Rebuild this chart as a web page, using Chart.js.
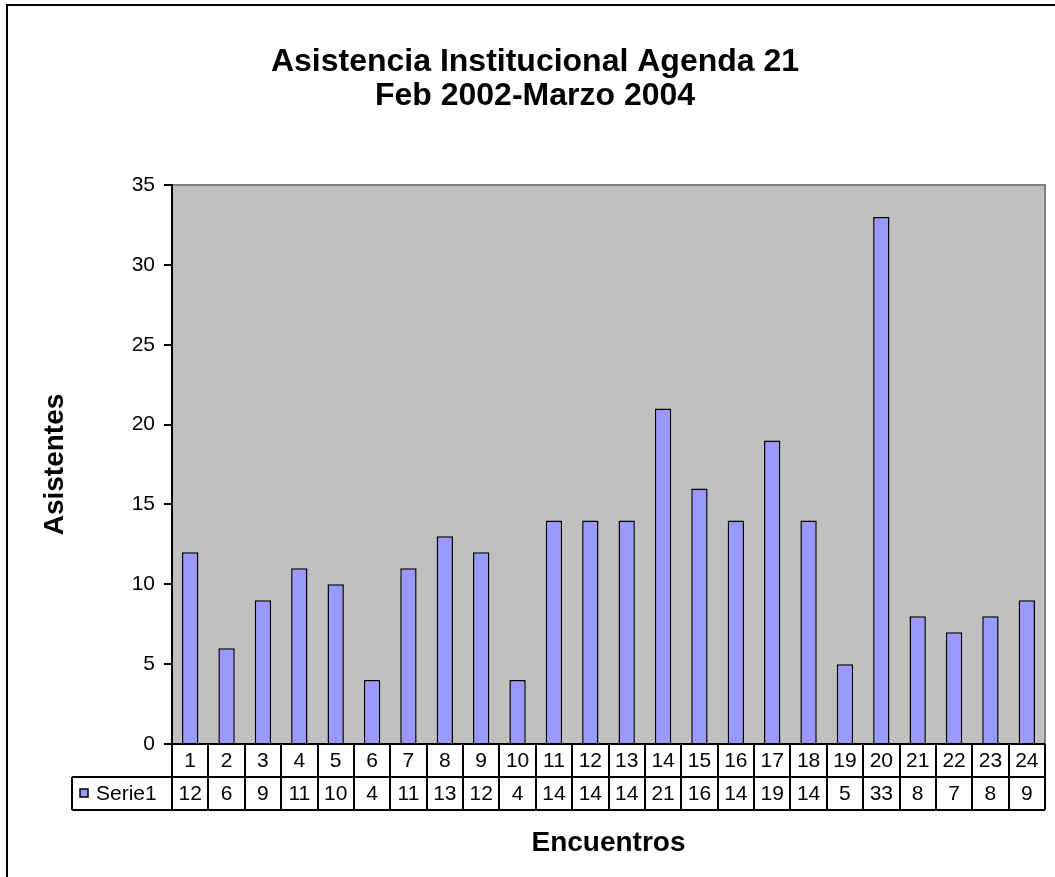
<!DOCTYPE html>
<html>
<head>
<meta charset="utf-8">
<script src="https://cdn.jsdelivr.net/npm/chart.js@4.4.0/dist/chart.umd.min.js"></script>
<style>
  html, body { margin: 0; padding: 0; background: #fff; }
  #wrap { width: 1055px; height: 877px; }
</style>
</head>
<body>
<div id="wrap"><canvas id="myChart" width="1055" height="877"></canvas></div>
<script>
// data
var encuentros = ['1','2','3','4','5','6','7','8','9','10','11','12','13','14','15','16','17','18','19','20','21','22','23','24'];
var serie1 = [12, 6, 9, 11, 10, 4, 11, 13, 12, 4, 14, 14, 14, 21, 16, 14, 19, 14, 5, 33, 8, 7, 8, 9];
var yTicks = [0, 5, 10, 15, 20, 25, 30, 35];
var serieName = 'Serie1';

var barColor = '#9999FF';
var fontFam = 'Arial, "Liberation Sans", sans-serif';
var rowH = 33;
var padLeft = 25;

// gray plot area + outer frame
var plotBg = {
  id: 'plotBg',
  beforeDraw: function(chart) {
    var c = chart.ctx, a = chart.chartArea;
    c.save();
    c.fillStyle = '#C0C0C0';
    c.fillRect(a.left, a.top, a.right - a.left, a.bottom - a.top);
    c.strokeStyle = '#808080';
    c.lineWidth = 2;
    c.beginPath();
    c.moveTo(a.left, a.top);
    c.lineTo(a.right, a.top);
    c.lineTo(a.right, a.bottom);
    c.stroke();
    // outer frame, cut off at right and bottom
    c.strokeStyle = '#000';
    c.lineWidth = 2;
    c.beginPath();
    c.moveTo(7, 880);
    c.lineTo(7, 5);
    c.lineTo(1060, 5);
    c.stroke();
    c.restore();
  }
};

// data table under the axis
var dataTable = {
  id: 'dataTable',
  afterDraw: function(chart) {
    var c = chart.ctx, a = chart.chartArea, xs = chart.scales.x;
    var n = encuentros.length;
    var w = (a.right - a.left) / n;
    var top = a.bottom, mid = top + rowH, bot = mid + rowH;
    var legLeft = 72;
    c.save();
    c.strokeStyle = '#000';
    c.lineWidth = 2;
    c.beginPath();
    // x axis line
    c.moveTo(a.left, top); c.lineTo(a.right, top);
    c.moveTo(legLeft, mid); c.lineTo(a.right, mid);
    c.moveTo(legLeft, bot); c.lineTo(a.right, bot);
    c.moveTo(legLeft, mid); c.lineTo(legLeft, bot);
    for (var i = 0; i <= n; i++) {
      var x = Math.round(a.left + i * w);
      c.moveTo(x, top); c.lineTo(x, bot);
    }
    c.stroke();

    c.fillStyle = '#000';
    c.font = '21px ' + fontFam;
    c.textAlign = 'center';
    c.textBaseline = 'middle';
    for (var j = 0; j < n; j++) {
      var cx = xs.getPixelForValue(j);
      c.fillText(encuentros[j], cx, top + rowH / 2 + 1);
      c.fillText(String(serie1[j]), cx, mid + rowH / 2 + 1);
    }
    // legend key
    c.fillStyle = barColor;
    c.fillRect(80, mid + 12, 8, 8);
    c.lineWidth = 1.5;
    c.strokeRect(80, mid + 12, 8, 8);
    c.fillStyle = '#000';
    c.textAlign = 'left';
    c.fillText(serieName, 96, mid + rowH / 2 + 1);
    c.restore();
  }
};

const ctx = document.getElementById('myChart');
new Chart(ctx, {
  type: 'bar',
  data: {
    labels: encuentros,
    datasets: [{
      label: serieName,
      data: serie1,
      backgroundColor: barColor,
      borderColor: '#000',
      borderWidth: 1.5,
      barPercentage: 0.45,
      categoryPercentage: 1
    }]
  },
  options: {
    responsive: false,
    animation: false,
    layout: { padding: { left: padLeft, right: 10, top: 0, bottom: 0 } },
    plugins: {
      legend: { display: false },
      tooltip: { enabled: false },
      title: {
        display: true,
        text: ['Asistencia Institucional Agenda 21', 'Feb 2002-Marzo 2004'],
        color: '#000',
        font: { family: fontFam, size: 32, weight: 'bold', lineHeight: 34 / 32 },
        padding: { top: 45, bottom: 72 }
      }
    },
    scales: {
      x: {
        ticks: { display: false },
        grid: { display: false },
        border: { display: false },
        title: {
          display: true,
          text: 'Encuentros',
          color: '#000',
          font: { family: fontFam, size: 28, weight: 'bold' },
          padding: { top: 0, bottom: 17 }
        },
        afterFit: function(s) { s.height = 133; }
      },
      y: {
        min: 0,
        max: 35,
        afterBuildTicks: function(s) { s.ticks = yTicks.map(function(v) { return { value: v }; }); },
        ticks: {
          color: '#000',
          padding: 9,
          font: { family: fontFam, size: 21 }
        },
        grid: {
          drawOnChartArea: false,
          drawTicks: true,
          tickLength: 8,
          color: '#000',
          lineWidth: 2
        },
        border: { display: true, color: '#000', width: 2 },
        title: {
          display: true,
          text: 'Asistentes',
          color: '#000',
          font: { family: fontFam, size: 28, weight: 'bold' },
          padding: { top: 38 - padLeft, bottom: 0 }
        },
        afterFit: function(s) { s.width = 172 - padLeft; }
      }
    }
  },
  plugins: [plotBg, dataTable]
});
</script>
</body>
</html>
